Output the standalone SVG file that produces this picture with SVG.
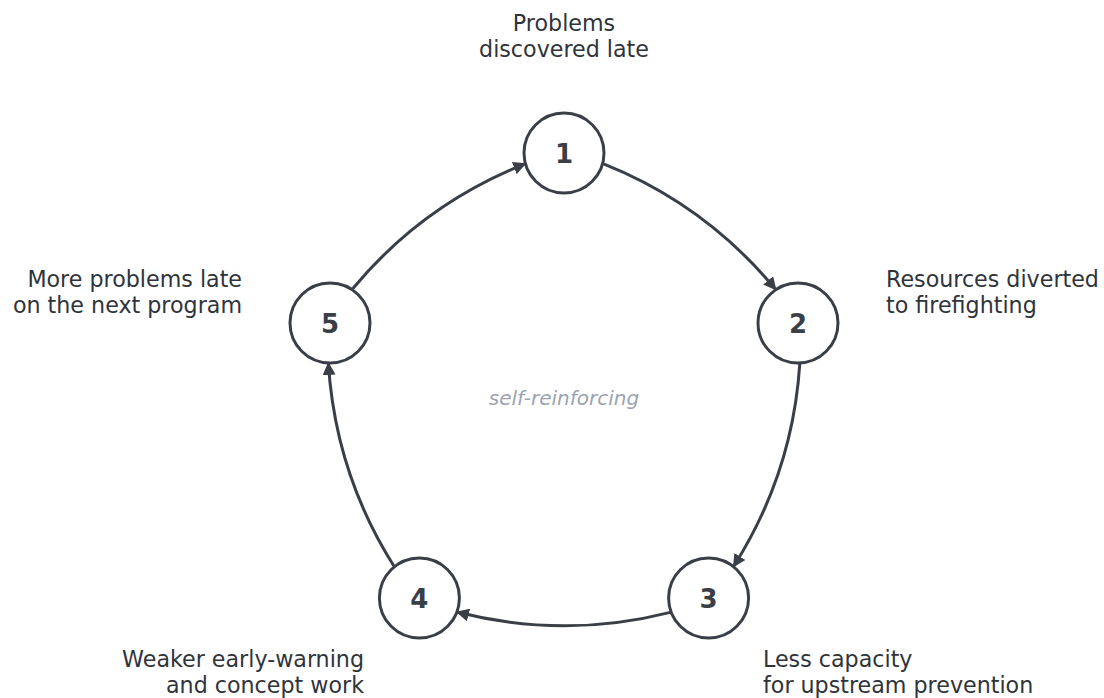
<svg xmlns="http://www.w3.org/2000/svg" width="1104" height="698" viewBox="0 0 1104 698">
  <defs>
    <marker id="arrow" viewBox="0 0 13 13" refX="12" refY="6.5" markerWidth="13" markerHeight="13" markerUnits="userSpaceOnUse" orient="auto">
      <path d="M0,0 L13,6.5 L0,13 z" fill="#3a3f47"/>
    </marker>
  </defs>
  <style>
    .node circle { fill: #ffffff; stroke: #3a3f47; stroke-width: 3; }
    .num { font-family: "DejaVu Sans", sans-serif; font-weight: bold; font-size: 26px; fill: #3a3f47; text-anchor: middle; }
    .lbl { font-family: "DejaVu Sans", sans-serif; font-size: 22.2px; fill: #2f343b; }
    .conn path { fill: none; stroke: #3a3f47; stroke-width: 3; marker-end: url(#arrow); }
    .center { font-family: "DejaVu Sans", sans-serif; font-style: italic; font-size: 20px; fill: #9ca3af; text-anchor: middle; }
  </style>
  <rect width="1104" height="698" fill="#ffffff"/>

  <g id="connectors" class="conn">
    <path d="M670.2,612.4 Q564,639.5 456.9,612" transform="rotate(-144 564 399)"/>
    <path d="M670.2,612.4 Q564,639.5 456.9,612" transform="rotate(-72 564 399)"/>
    <path d="M670.2,612.4 Q564,639.5 456.9,612"/>
    <path d="M670.2,612.4 Q564,639.5 456.9,612" transform="rotate(72 564 399)"/>
    <path d="M670.2,612.4 Q564,639.5 456.9,612" transform="rotate(144 564 399)"/>
  </g>

  <text class="center" x="564" y="405">self-reinforcing</text>

  <g id="node1" class="node">
    <circle cx="564" cy="153" r="40"/>
    <text class="num" x="564" y="162.5">1</text>
    <text class="lbl" text-anchor="middle" x="564" y="31">Problems</text>
    <text class="lbl" text-anchor="middle" x="564" y="57">discovered late</text>
  </g>
  <g id="node2" class="node">
    <circle cx="798" cy="323" r="40"/>
    <text class="num" x="798" y="332.5">2</text>
    <text class="lbl" x="886" y="287">Resources diverted</text>
    <text class="lbl" x="886" y="313">to firefighting</text>
  </g>
  <g id="node3" class="node">
    <circle cx="708.6" cy="598" r="40"/>
    <text class="num" x="708.6" y="607.5">3</text>
    <text class="lbl" x="763" y="667">Less capacity</text>
    <text class="lbl" x="763" y="693">for upstream prevention</text>
  </g>
  <g id="node4" class="node">
    <circle cx="419.4" cy="598" r="40"/>
    <text class="num" x="419.4" y="607.5">4</text>
    <text class="lbl" text-anchor="end" x="364" y="667">Weaker early-warning</text>
    <text class="lbl" text-anchor="end" x="364" y="693">and concept work</text>
  </g>
  <g id="node5" class="node">
    <circle cx="330" cy="323" r="40"/>
    <text class="num" x="330" y="332.5">5</text>
    <text class="lbl" text-anchor="end" x="242" y="287">More problems late</text>
    <text class="lbl" text-anchor="end" x="242" y="313">on the next program</text>
  </g>
</svg>
